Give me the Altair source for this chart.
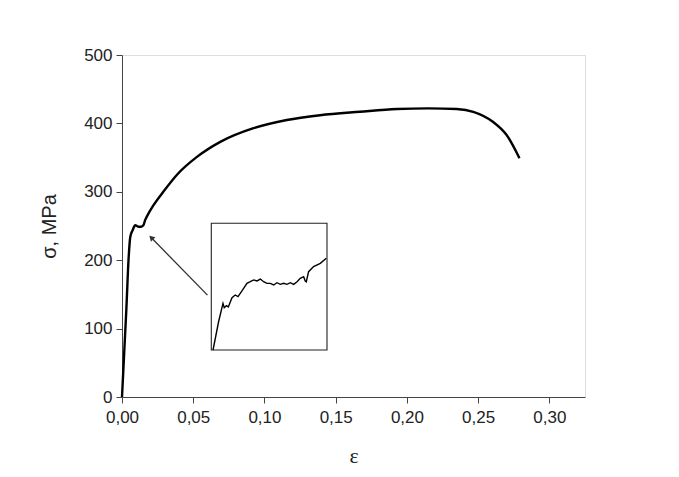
import altair as alt
import pandas as pd

# main stress-strain curve
strain = [0, 0.001, 0.002, 0.003, 0.0047, 0.0058, 0.0075, 0.0093, 0.0117, 0.0135, 0.015,
          0.0163, 0.0175, 0.022, 0.029, 0.0386, 0.0526, 0.069, 0.0923, 0.1157, 0.139,
          0.167, 0.193, 0.215, 0.235, 0.2466, 0.2606, 0.27, 0.279]
stress = [0, 42, 84, 126, 205, 234, 244, 251, 249, 249, 251,
          259, 264, 280, 300, 325, 351, 373, 393, 405, 412,
          417, 421, 422, 421, 417, 402, 383, 349]

# inset (zoom of the yield region)
inset_strain_frac = [0.015, 0.063, 0.101, 0.112, 0.130, 0.147, 0.179, 0.207, 0.231, 0.265,
                     0.308, 0.337, 0.366, 0.395, 0.424, 0.452, 0.481, 0.510, 0.539, 0.568,
                     0.596, 0.625, 0.654, 0.683, 0.712, 0.741, 0.769, 0.798, 0.812, 0.821,
                     0.841, 0.884, 0.942, 0.994]
inset_stress_frac = [0.0, 0.223, 0.368, 0.334, 0.350, 0.340, 0.413, 0.434, 0.421, 0.466,
                     0.526, 0.539, 0.553, 0.545, 0.560, 0.539, 0.526, 0.526, 0.513, 0.531,
                     0.518, 0.526, 0.518, 0.531, 0.518, 0.539, 0.566, 0.579, 0.545, 0.539,
                     0.618, 0.658, 0.684, 0.724]
inset_x_domain = [0.005, 0.020]
inset_y_domain = [180, 270]

# arrow (tail -> head), in main data units
arrow_strain = [0.060, 0.021]
arrow_stress = [149, 232]

x_ticks = [0, 0.05, 0.10, 0.15, 0.20, 0.25, 0.30]
y_ticks = [0, 100, 200, 300, 400, 500]

W, H = 463, 342
main_x = alt.Scale(domain=[0, 0.325], nice=False, zero=False)
main_y = alt.Scale(domain=[0, 500], nice=False)

FONT = "Liberation Sans"

df = pd.DataFrame({"e": strain, "s": stress})
main = alt.Chart(df).mark_line(color="black", strokeWidth=2.4, interpolate="monotone").encode(
    x=alt.X("e:Q", scale=main_x,
            axis=alt.Axis(values=x_ticks, title="ε", grid=False, labelFlush=False,
                          labelExpr="replace(format(datum.value, '.2f'), '.', ',')",
                          labelFont=FONT, labelFontSize=17, labelColor="#222",
                          titleFont="Liberation Serif", titleFontSize=22, titleFontWeight="normal",
                          titleColor="#222", titlePadding=20, tickSize=6,
                          domainColor="#444", tickColor="#444", labelPadding=6)),
    y=alt.Y("s:Q", scale=main_y,
            axis=alt.Axis(values=y_ticks, title="σ, MPa", grid=False, labelFlush=False,
                          labelFont=FONT, labelFontSize=17, labelColor="#222",
                          titleFont=FONT, titleFontSize=20, titleFontWeight="normal",
                          titleColor="#222", titlePadding=24, tickSize=6,
                          domainColor="#444", tickColor="#444", labelPadding=4)),
)

arr_df = pd.DataFrame({"e": [arrow_strain[0]], "s": [arrow_stress[0]],
                       "e2": [arrow_strain[1]], "s2": [arrow_stress[1]]})
arrow_line = alt.Chart(arr_df).mark_rule(color="#333", strokeWidth=1.3).encode(
    x=alt.X("e:Q", scale=main_x, axis=None),
    y=alt.Y("s:Q", scale=main_y, axis=None),
    x2="e2:Q", y2="s2:Q",
)
arrow_head = alt.Chart(arr_df).mark_point(shape="triangle", filled=True, color="#333",
                                          size=40, angle=315, opacity=1).encode(
    x=alt.X("e2:Q", scale=main_x, axis=None),
    y=alt.Y("s2:Q", scale=main_y, axis=None),
)

# inset placement in plot-area pixels
inset_x_scale = alt.Scale(domain=inset_x_domain, range=[89.3, 205], nice=False, zero=False)
inset_y_scale = alt.Scale(domain=inset_y_domain, range=[295, 168.3], nice=False, zero=False)

ix = [inset_x_domain[0] + f * (inset_x_domain[1] - inset_x_domain[0]) for f in inset_strain_frac]
iy = [inset_y_domain[0] + f * (inset_y_domain[1] - inset_y_domain[0]) for f in inset_stress_frac]
inset_df = pd.DataFrame({"e": ix, "s": iy})

box_df = pd.DataFrame({"x1": [inset_x_domain[0]], "x2": [inset_x_domain[1]],
                       "y1": [inset_y_domain[0]], "y2": [inset_y_domain[1]]})
inset_box = alt.Chart(box_df).mark_rect(fill="white", stroke="#222", strokeWidth=1.1).encode(
    x=alt.X("x1:Q", scale=inset_x_scale, axis=None),
    x2="x2:Q",
    y=alt.Y("y1:Q", scale=inset_y_scale, axis=None),
    y2="y2:Q",
)
inset_line = alt.Chart(inset_df).mark_line(color="black", strokeWidth=1.4).encode(
    x=alt.X("e:Q", scale=inset_x_scale, axis=None),
    y=alt.Y("s:Q", scale=inset_y_scale, axis=None),
)

chart = alt.layer(main, arrow_line, arrow_head, inset_box, inset_line).resolve_scale(
    x="independent", y="independent"
).properties(
    width=W, height=H,
    autosize=alt.AutoSizeParams(type="none"),
    padding={"left": 114, "top": 47, "right": 80, "bottom": 70},
).configure_view(stroke=None).configure(background="white")

chart.save("out.html", embed_options={"renderer": "svg", "actions": False})
